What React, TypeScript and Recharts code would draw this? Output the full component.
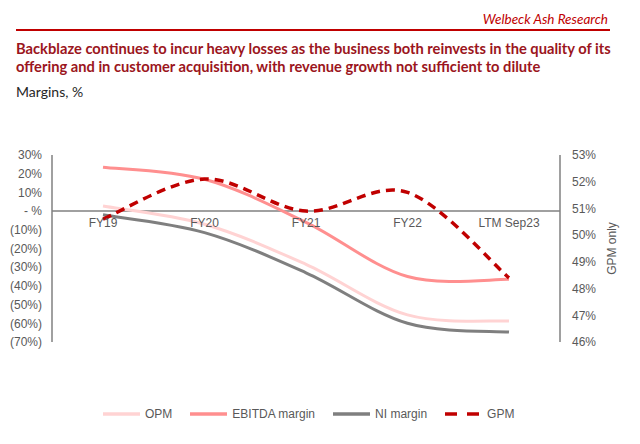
import React from 'react';
import { LineChart, Line, XAxis, YAxis, ReferenceLine, ReferenceDot } from 'recharts';

const categories = ['FY19', 'FY20', 'FY21', 'FY22', 'LTM Sep23'];
const opm = [2.7, -7, -28.5, -55.5, -58.8];
const ebitda = [23.5, 17, -6, -35, -36.5];
const niMargin = [-2, -11.5, -33, -60, -64.7];
const gpm = [50.6, 52.1, 50.9, 51.6, 48.4];
const leftTicks = [30, 20, 10, 0, -10, -20, -30, -40, -50, -60, -70];
const rightTicks = [53, 52, 51, 50, 49, 48, 47, 46];

const seriesMeta = [
  { key: 'opm', name: 'OPM', color: '#FFD3D3', dash: undefined as string | undefined, axis: 'left', width: 3 },
  { key: 'ebitda', name: 'EBITDA margin', color: '#FF8F8F', dash: undefined, axis: 'left', width: 3 },
  { key: 'ni', name: 'NI margin', color: '#7F7F7F', dash: undefined, axis: 'left', width: 3 },
  { key: 'gpm', name: 'GPM', color: '#C00000', dash: '9 6', axis: 'right', width: 3.5 },
];

const data = categories.map((cat, i) => ({
  cat,
  opm: opm[i],
  ebitda: ebitda[i],
  ni: niMargin[i],
  gpm: gpm[i],
}));

const catmullRom = (context: any) => {
  let pts: number[][] = [];
  return {
    areaStart() {},
    areaEnd() {},
    lineStart() {
      pts = [];
    },
    point(x: number, y: number) {
      pts.push([+x, +y]);
    },
    lineEnd() {
      const n = pts.length;
      if (!n) return;
      context.moveTo(pts[0][0], pts[0][1]);
      for (let i = 0; i < n - 1; i++) {
        const p0 = pts[i === 0 ? 0 : i - 1];
        const p1 = pts[i];
        const p2 = pts[i + 1];
        const p3 = pts[i + 2 < n ? i + 2 : n - 1];
        context.bezierCurveTo(
          p1[0] + (p2[0] - p0[0]) / 6,
          p1[1] + (p2[1] - p0[1]) / 6,
          p2[0] - (p3[0] - p1[0]) / 6,
          p2[1] - (p3[1] - p1[1]) / 6,
          p2[0],
          p2[1]
        );
      }
    },
  };
};

const fmtLeft = (v: number) => (v === 0 ? '- %' : v < 0 ? `(${Math.abs(v)}%)` : `${v}%`);
const fmtRight = (v: number) => `${v}%`;

const tickStyle = { fill: '#595959', fontSize: 12, fontFamily: 'Liberation Sans, Arial, sans-serif' };

export default function App() {
  return (
    <div style={{ position: 'absolute', left: 0, top: 0, width: 640, height: 444, background: '#fff', fontFamily: 'Liberation Sans, Arial, sans-serif' }}>
      <div style={{ position: 'absolute', right: 32, top: 11, fontFamily: 'Lato, sans-serif', fontStyle: 'italic', fontSize: 13.5, color: '#C00000', lineHeight: '16px', whiteSpace: 'nowrap' }}>
        Welbeck Ash Research
      </div>
      <div style={{ position: 'absolute', left: 16, top: 29, width: 594, height: 2, background: '#C00000' }} />
      <div style={{ position: 'absolute', left: 16, top: 39, width: 620, fontFamily: 'Lato, sans-serif', fontWeight: 'bold', fontSize: 14.7, color: '#9B1520', lineHeight: '18px' }}>
        <div style={{ whiteSpace: 'nowrap' }}>Backblaze continues to incur heavy losses as the business both reinvests in the quality of its</div>
        <div style={{ whiteSpace: 'nowrap' }}>offering and in customer acquisition, with revenue growth not sufficient to dilute</div>
      </div>
      <div style={{ position: 'absolute', left: 16, top: 84, fontFamily: 'Lato, sans-serif', fontSize: 14, color: '#262626', lineHeight: '16px' }}>
        Margins, %
      </div>
      <div style={{ position: 'absolute', left: 0, top: 0 }}>
        <LineChart width={640} height={444} data={data} margin={{ top: 155, right: 0, bottom: 102, left: 0 }}>
          <XAxis dataKey="cat" hide padding={{ left: 51, right: 51 }} />
          <YAxis
            yAxisId="left"
            orientation="left"
            width={52}
            domain={[-70, 30]}
            ticks={leftTicks}
            interval={0}
            tickFormatter={fmtLeft}
            tickLine={false}
            tickMargin={4}
            axisLine={{ stroke: '#808080', strokeWidth: 1.5 }}
            tick={tickStyle}
          />
          <YAxis
            yAxisId="right"
            orientation="right"
            width={80}
            domain={[46, 53]}
            ticks={rightTicks}
            interval={0}
            tickFormatter={fmtRight}
            tickLine={false}
            tickMargin={6}
            axisLine={{ stroke: '#808080', strokeWidth: 1.5 }}
            tick={{ ...tickStyle, textAnchor: 'start' }}
            label={{ value: 'GPM only', angle: -90, position: 'center', dx: 12, style: { fill: '#595959', fontSize: 12, fontFamily: 'Liberation Sans, Arial, sans-serif' } }}
          />
          <ReferenceLine yAxisId="left" y={0} stroke="#808080" strokeWidth={1.5} />
          {categories.map((c) => (
            <ReferenceDot
              key={c}
              yAxisId="left"
              x={c}
              y={0}
              r={0}
              fill="none"
              stroke="none"
              label={{ value: c, position: 'bottom', offset: 7, style: { fill: '#595959', fontSize: 12, fontFamily: 'Liberation Sans, Arial, sans-serif' } }}
            />
          ))}
          {seriesMeta.map((s) => (
            <Line
              key={s.key}
              yAxisId={s.axis}
              dataKey={s.key}
              name={s.name}
              type={catmullRom as any}
              stroke={s.color}
              strokeWidth={s.width}
              strokeDasharray={s.dash}
              dot={false}
              activeDot={false}
              isAnimationActive={false}
            />
          ))}
        </LineChart>
      </div>
      <div style={{ position: 'absolute', left: 103, top: 406, display: 'flex', alignItems: 'center', fontSize: 12, color: '#595959', fontFamily: 'Liberation Sans, Arial, sans-serif', lineHeight: '16px' }}>
        {seriesMeta.map((s) => (
          <div key={s.key} style={{ display: 'flex', alignItems: 'center', marginRight: 18 }}>
            <svg width={37} height={6} style={{ marginRight: 5 }}>
              <line x1={0} y1={3} x2={37} y2={3} stroke={s.color} strokeWidth={3.5} strokeDasharray={s.dash ? '12 10' : undefined} />
            </svg>
            <span>{s.name}</span>
          </div>
        ))}
      </div>
    </div>
  );
}
